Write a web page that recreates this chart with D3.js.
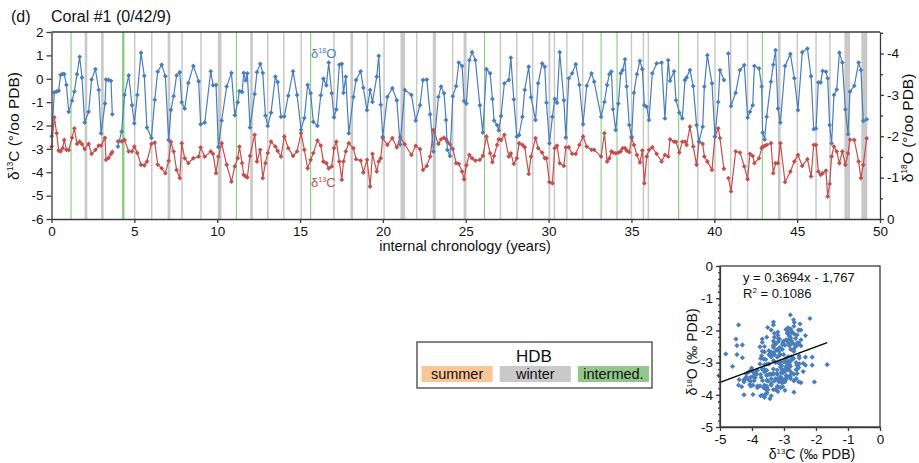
<!DOCTYPE html>
<html>
<head>
<meta charset="utf-8">
<script src="https://cdn.jsdelivr.net/npm/d3@7"></script>
<style>
  body { margin: 0; background: #fff; }
  svg text { font-family: "Liberation Sans", Arial, sans-serif; fill: #111; }
  .axis path, .axis line { stroke: #3a3a3a; stroke-width: 1.3; }
  .axis text { font-size: 13.5px; }
</style>
</head>
<body>
<div id="chart"></div>
<script>
// sample chronology (years); null marks a break in the record
const years = [
  0.01,0.17,0.31,0.43,0.55,0.67,0.77,0.90,1.04,1.24,1.38,1.54,1.70,1.84,2.00,2.24,2.42,2.65,2.85,2.99,
  3.23,3.29,3.45,3.59,3.67,3.85,
  4.01,4.23,4.41,4.66,4.86,5.00,5.18,5.40,5.60,5.76,6.03,6.23,6.41,6.65,6.87,7.07,7.21,7.37,7.55,7.74,
  7.86,8.04,8.26,8.56,8.88,9.00,9.25,9.61,9.75,9.93,10.07,10.27,10.57,10.86,11.06,11.24,11.34,11.50,11.60,11.72,
  11.82,11.98,12.26,12.40,12.60,12.75,12.91,13.05,13.25,13.51,13.65,13.85,14.05,14.29,14.58,14.82,15.06,15.26,15.46,15.64,
  15.80,16.05,16.25,16.41,16.59,16.73,16.91,17.05,17.19,17.37,17.52,17.62,17.76,17.94,18.22,18.38,18.66,18.82,19.04,19.23,
  19.37,19.63,19.75,19.87,19.99,20.27,20.57,20.84,21.04,21.32,21.72,21.98,22.24,22.42,22.65,22.85,23.05,23.35,23.51,23.69,
  23.81,23.89,24.05,24.22,24.42,24.58,24.78,24.90,25.04,25.22,25.38,25.58,25.85,26.03,26.25,26.47,26.61,26.71,26.89,26.99,
  27.13,27.33,27.60,27.72,27.90,28.08,28.22,28.42,28.56,28.80,28.94,29.21,29.37,29.61,29.77,29.87,30.05,30.23,30.37,30.51,
  30.67,30.92,31.04,31.22,31.42,31.64,31.86,32.08,32.30,32.59,32.75,33.17,33.37,33.53,33.67,33.79,33.89,34.05,34.21,34.35,
  34.47,34.61,34.71,34.87,35.01,35.15,35.33,35.51,35.66,35.78,35.92,36.06,36.26,36.52,36.82,37.02,37.22,37.33,37.57,37.69,
  37.89,38.07,38.23,38.33,38.53,38.73,38.93,39.08,39.30,39.40,39.58,39.86,40.04,40.24,40.34,40.58,40.70,
  40.85,41.01,41.29,41.55,41.81,42.01,42.15,42.32,42.42,42.70,42.86,42.92,43.04,43.16,43.42,43.56,43.70,43.84,43.99,44.27,
  44.59,44.83,45.05,45.31,45.62,45.84,46.00,46.14,46.28,46.42,46.54,46.74,46.84,46.96,47.08,47.22,47.39,47.55,47.73,47.91,
  48.07,48.19,48.45,48.71,48.85,48.99,49.20
];

// d18O (permil PDB), right axis, reversed
const d18O = [
  -2.00,-3.06,-3.08,-3.10,-3.48,-3.51,-3.50,-3.24,-2.59,-2.86,-3.08,-3.50,-3.92,-3.42,-2.33,-2.59,-3.37,-3.62,-3.12,-2.07,
  -2.79,-3.37,-3.36,-3.34,-2.53,null,
  -1.75,-2.11,-3.00,-3.47,-2.75,-2.31,-3.00,-4.02,-3.46,-2.21,-1.96,-2.88,-3.56,-3.73,-3.45,-1.91,-2.64,-2.97,-3.47,-3.55,
  -2.82,-2.67,-3.29,-3.70,-3.33,-2.29,-2.33,-3.57,-3.23,-3.24,-1.74,-2.38,-3.20,-3.53,-2.51,-2.82,-3.09,-3.07,-3.53,-3.35,
  -3.52,-2.21,-3.02,-3.55,-3.75,-3.53,-2.50,-2.25,-2.57,-3.44,-3.31,-2.47,-2.48,-2.98,-3.57,-3.00,-2.16,-2.44,-3.24,-3.04,
  -2.35,-2.25,-2.99,-3.39,-3.23,-3.78,-3.04,-2.46,-2.65,-3.73,-3.75,-3.05,-3.44,-2.07,-2.95,-3.36,-3.57,-3.17,-2.63,-3.12,
  -2.83,-3.44,-3.94,-2.76,-1.99,-2.95,-3.16,-2.87,-1.80,-3.12,-3.00,-2.38,-2.75,-3.36,-3.37,-2.53,-1.63,-2.95,-3.20,-3.04,
  -2.39,-1.67,-1.52,-2.97,-3.21,-3.78,-3.70,-2.85,-2.79,-3.84,-4.03,-3.84,-2.75,-2.09,-3.62,-3.52,-2.90,-2.38,-2.27,-2.14,
  -2.49,-3.28,-3.36,-3.90,-2.89,-1.99,-2.03,-2.47,-3.12,-3.68,-2.94,-2.39,-3.28,-3.76,-3.68,-2.81,-1.83,-2.47,-2.90,-2.81,
  -4.03,-2.87,-1.97,-3.40,-3.52,-3.74,-3.24,-2.29,-3.22,-3.52,-3.32,-2.47,-2.83,-3.24,-3.50,-3.56,-2.65,-2.15,-2.79,-3.52,
  -3.60,-3.86,-3.20,-2.27,-1.99,-3.05,-3.50,-3.82,-3.62,-2.75,-2.71,-2.39,-3.52,-3.76,-3.78,-2.43,-3.84,-3.34,-3.57,-2.87,
  -2.57,-2.43,-3.36,-3.42,-3.60,-3.21,-2.27,-1.87,-2.23,-3.20,-3.96,-3.28,-1.99,-2.83,-3.60,-3.36,null,
  -4.00,-2.73,-3.05,-3.60,-3.72,-2.45,-2.59,-2.75,-3.70,-3.64,-3.20,-2.09,-1.92,-2.47,-3.32,-3.73,-4.08,-2.67,-2.33,-3.70,
  -3.99,-3.40,-2.63,-4.03,-4.12,-3.45,-2.17,-2.19,-3.30,-3.30,-3.58,-3.56,-3.40,-2.27,-1.83,-3.00,-3.13,-4.02,-3.78,-2.65,
  -2.05,-3.08,-3.22,-3.78,-3.60,-2.37,-2.41
];

// d13C (permil PDB), left axis
const d13C = [
  -2.90,-1.65,-2.33,-3.07,-3.11,-2.97,-2.62,-3.04,-3.05,-2.52,-2.12,-2.79,-2.69,-2.80,-3.01,-2.79,-3.21,-3.04,-2.86,-2.86,
  -2.53,-3.47,-3.38,-3.22,-3.13,null,
  -2.68,-2.68,-2.62,-3.11,-3.11,-2.90,-3.18,-3.68,-3.71,-3.54,-2.79,-2.73,-3.67,-3.83,-4.04,-3.51,-2.70,-3.11,-3.90,-4.25,
  -2.76,-3.40,-3.61,-3.40,-3.33,-2.94,-3.33,-3.11,-3.21,-4.04,-3.33,-2.76,-3.68,-4.40,-3.75,-3.40,-2.90,-3.61,-4.11,-4.18,
  -4.22,-3.30,-2.40,-3.54,-3.04,-4.25,-3.61,-3.18,-2.69,-2.90,-3.09,-3.33,-2.47,-2.97,-3.30,-3.11,-2.33,-3.04,-3.83,-3.47,
  -3.18,-2.64,-2.86,-3.54,-3.61,-3.83,-3.75,-2.97,-2.69,-3.54,-4.32,-3.54,-3.11,-2.76,-2.97,-3.44,-3.50,-4.01,-3.47,-4.61,
  -3.21,-3.97,-3.54,-3.40,-2.54,-2.83,-2.54,-2.93,-2.50,-2.80,-3.26,-2.87,-3.01,-3.90,-3.73,-3.33,-2.19,-2.79,-2.59,-2.52,
  -2.59,-2.70,-2.80,-3.00,-3.61,-3.64,-3.97,-4.30,-3.70,-3.26,-3.40,-3.50,-3.47,-3.30,-2.47,-3.19,-3.57,-3.30,-2.83,-2.59,
  -2.62,-2.40,-3.33,-3.19,-3.64,-3.40,-2.76,-2.83,-2.93,-4.07,-3.33,-2.54,-2.97,-3.16,-3.40,-3.40,-4.42,-4.47,-2.97,-2.86,
  -3.61,-3.73,-2.94,-2.93,-3.21,-3.21,-2.83,-2.47,-2.90,-3.04,-3.04,-3.33,-2.33,-3.54,-3.40,-3.11,-3.16,-3.19,-3.16,-3.11,
  -2.97,-2.97,-3.07,-3.14,-2.54,-2.83,-3.26,-3.58,-3.07,-4.47,-3.33,-3.04,-2.93,-3.21,-3.54,-3.26,-3.33,-2.59,-2.69,-2.70,
  -3.16,-2.69,-2.69,-2.83,-2.05,-2.90,-3.68,-2.69,-2.79,-3.33,-3.54,-3.90,-2.47,-2.12,-2.54,-3.85,null,
  -4.25,-4.82,-3.11,-3.16,-3.75,-4.30,-3.21,-3.30,-3.61,-3.40,-2.97,-2.90,-2.87,-2.83,-2.76,-4.04,-3.61,-3.61,-2.76,-4.42,
  -3.97,-3.54,-3.26,-3.73,-3.44,-4.18,-2.83,-2.83,-3.97,-4.11,-4.04,-3.93,-5.04,-4.50,-3.33,-2.90,-3.11,-3.61,-3.11,-3.68,
  -3.19,-2.60,-2.62,-3.54,-4.25,-3.68,-2.55
];

// HDB bands: [centre year, width in years]
const winterBands = [
  [2.08,0.16],[3.07,0.16],[5.02,0.09],[6.05,0.09],[7.09,0.16],[7.88,0.09],[9.02,0.09],[10.15,0.22],
  [12.07,0.16],[13.05,0.09],[14.02,0.09],[15.07,0.09],[17.05,0.09],[18.12,0.16],[19.06,0.09],[20.07,0.09],
  [21.20,0.28],[22.04,0.09],[23.11,0.20],[24.21,0.09],[24.96,0.18],[27.09,0.09],[28.08,0.09],[29.04,0.09],
  [30.05,0.12],[30.35,0.09],[31.10,0.09],[32.06,0.09],[35.00,0.09],[35.72,0.09],[36.02,0.09],[39.00,0.09],
  [40.04,0.09],[40.99,0.09],[42.01,0.09],[43.92,0.16],[45.01,0.09],[46.14,0.09],[46.98,0.09],[48.02,0.34],
  [49.05,0.36]
];
const intermedBands = [
  [1.18,0.07],[4.33,0.15],[11.16,0.07],[15.64,0.07],[26.13,0.07],[33.17,0.07],[34.13,0.07],[37.85,0.07],[42.90,0.07]
];
const summerBands = [];

const legendLabels = ["summer", "winter", "intermed."];
const legendColors = ["#f9c697", "#c9c9c9", "#92c78b"];

const regSlope = 0.3694;
const regIntercept = -1.767;
const regText = ["y = 0.3694x - 1,767", "R² = 0.1086"];

const xTicks = d3.range(0, 51, 5);
const cTicks = d3.range(-6, 3, 1);
const oTicks = [0, -1, -2, -3, -4];

const blue = "#4a7ebb";
const red = "#c0504d";

const W = 919, H = 463;
const svg = d3.select("#chart").append("svg")
  .attr("width", W).attr("height", H);

const rows = years.map((t, i) => ({ t: t, o: d18O[i], c: d13C[i] }));

// ---------- main time series ----------
const x = d3.scaleLinear().domain([0, 50]).range([51.5, 880]);
const yC = d3.scaleLinear().domain([-6, 2]).range([219, 32]);
const yO = d3.scaleLinear().domain([0, -4.52]).range([219, 32]);

const bands = svg.append("g");
function drawBands(list, color) {
  bands.selectAll(null).data(list).enter().append("rect")
    .attr("x", d => x(d[0] - d[1] / 2))
    .attr("y", 32)
    .attr("width", d => x(d[1]) - x(0))
    .attr("height", 187)
    .attr("fill", color);
}
drawBands(summerBands, legendColors[0]);
drawBands(winterBands, legendColors[1]);
drawBands(intermedBands, "#8ccf86");

const diamond = r => `M0,${-r}L${r},0L0,${r}L${-r},0Z`;

function drawSeries(key, yScale, color) {
  const line = d3.line()
    .defined(d => d[key] != null)
    .x(d => x(d.t))
    .y(d => yScale(d[key]));
  svg.append("path").datum(rows)
    .attr("d", line)
    .attr("fill", "none")
    .attr("stroke", color)
    .attr("stroke-width", 1.2);
  svg.append("g").selectAll("path")
    .data(rows.filter(d => d[key] != null))
    .enter().append("path")
    .attr("d", diamond(2.4))
    .attr("transform", d => `translate(${x(d.t)},${yScale(d[key])})`)
    .attr("fill", color);
}
drawSeries("c", yC, red);
drawSeries("o", yO, blue);

const fmt = d => String(d);

svg.append("g").attr("class", "axis")
  .attr("transform", "translate(51.5,0)")
  .call(d3.axisLeft(yC).tickValues(cTicks).tickFormat(fmt).tickSize(5).tickSizeOuter(0).tickPadding(3));

svg.append("g").attr("class", "axis")
  .attr("transform", "translate(880,0)")
  .call(d3.axisRight(yO).tickValues(oTicks).tickFormat(fmt).tickSize(4).tickSizeOuter(0).tickPadding(3));
svg.append("g").attr("class", "axis")
  .attr("transform", "translate(880,0)")
  .call(d3.axisRight(yO).tickValues([-0.5, -1.5, -2.5, -3.5, -4.5]).tickFormat("").tickSize(3).tickSizeOuter(0))
  .select(".domain").remove();

svg.append("g").attr("class", "axis")
  .attr("transform", "translate(0,219)")
  .call(d3.axisBottom(x).tickValues(xTicks).tickFormat(fmt).tickSize(4).tickSizeOuter(0).tickPadding(3));

svg.append("line")
  .attr("x1", 51.5).attr("x2", 880).attr("y1", 32).attr("y2", 32)
  .attr("stroke", "#3a3a3a").attr("stroke-width", 1.3);

// titles
svg.append("text").attr("x", 11).attr("y", 22).style("font-size", "16px").text("(d)");
svg.append("text").attr("x", 51).attr("y", 22).style("font-size", "16px").text("Coral #1 (0/42/9)");

function isoLabel(g, mass, elem, rest, size) {
  const t = g.append("text").style("font-size", size + "px");
  t.append("tspan").text("δ");
  t.append("tspan").attr("dy", -size * 0.38).style("font-size", (size * 0.55) + "px").text(mass);
  t.append("tspan").attr("dy", size * 0.38).text(elem + rest);
  return t;
}

isoLabel(svg, "13", "C", " (°/oo PDB)", 15.5)
  .attr("text-anchor", "middle")
  .attr("transform", "translate(19,126) rotate(-90)");
isoLabel(svg, "18", "O", " (°/oo PDB)", 15.5)
  .attr("text-anchor", "middle")
  .attr("transform", "translate(913,128) rotate(-90)");

svg.append("text").attr("x", 465).attr("y", 251)
  .attr("text-anchor", "middle").style("font-size", "14.5px")
  .text("internal chronology (years)");

isoLabel(svg, "18", "O", "", 13).attr("x", 311).attr("y", 58).style("fill", blue)
  .selectAll("tspan").style("fill", blue);
isoLabel(svg, "13", "C", "", 13).attr("x", 311).attr("y", 187).style("fill", red)
  .selectAll("tspan").style("fill", red);

// ---------- legend ----------
const lg = svg.append("g");
lg.append("rect").attr("x", 417).attr("y", 342).attr("width", 235).attr("height", 46)
  .attr("fill", "#fff").attr("stroke", "#333").attr("stroke-width", 1.2);
lg.append("text").attr("x", 534).attr("y", 362).attr("text-anchor", "middle")
  .style("font-size", "17px").text("HDB");
const lx = d3.scaleBand().domain(legendLabels).range([421.5, 649]).paddingInner(0.09);
lg.selectAll(".sw").data(legendLabels).enter().append("rect")
  .attr("x", d => lx(d)).attr("y", 366).attr("width", lx.bandwidth()).attr("height", 16)
  .attr("fill", (d, i) => legendColors[i]);
lg.selectAll(".lt").data(legendLabels).enter().append("text")
  .attr("x", d => lx(d) + lx.bandwidth() / 2).attr("y", 379)
  .attr("text-anchor", "middle").style("font-size", "14.5px").text(d => d);

// ---------- scatter ----------
const sx = d3.scaleLinear().domain([-5, 0]).range([720, 880]);
const sy = d3.scaleLinear().domain([0, -5]).range([266, 427]);
const pts = rows.filter(d => d.o != null && d.c != null);

svg.append("rect").attr("x", 720).attr("y", 266).attr("width", 160).attr("height", 161)
  .attr("fill", "none").attr("stroke", "#3a3a3a").attr("stroke-width", 1.3);

svg.append("g").selectAll("path").data(pts).enter().append("path")
  .attr("d", diamond(2.6))
  .attr("transform", d => `translate(${sx(d.c)},${sy(d.o)})`)
  .attr("fill", blue);

const xEnd = d3.max(pts, d => d.c);
svg.append("line")
  .attr("x1", sx(-5)).attr("y1", sy(regSlope * -5 + regIntercept))
  .attr("x2", sx(xEnd)).attr("y2", sy(regSlope * xEnd + regIntercept))
  .attr("stroke", "#000").attr("stroke-width", 1.3);

svg.append("g").attr("class", "axis")
  .attr("transform", "translate(720,0)")
  .call(d3.axisLeft(sy).tickValues(d3.range(0, -6, -1)).tickFormat(fmt).tickSize(4).tickSizeOuter(0).tickPadding(3));
svg.append("g").attr("class", "axis")
  .attr("transform", "translate(720,0)")
  .call(d3.axisLeft(sy).tickValues(d3.range(-0.2, -5, -0.2)).tickFormat("").tickSize(2).tickSizeOuter(0))
  .select(".domain").remove();
svg.append("g").attr("class", "axis")
  .attr("transform", "translate(0,427)")
  .call(d3.axisBottom(sx).tickValues(d3.range(-5, 1, 1)).tickFormat(fmt).tickSize(4).tickSizeOuter(0).tickPadding(3));

svg.append("text").attr("x", 743).attr("y", 282).style("font-size", "13px").text(regText[0]);
const r2 = svg.append("text").attr("x", 743).attr("y", 298).style("font-size", "13px");
r2.append("tspan").text("R");
r2.append("tspan").attr("dy", -5).style("font-size", "8px").text("2");
r2.append("tspan").attr("dy", 5).text(" = 0.1086");

isoLabel(svg, "13", "C", " (‰ PDB)", 14)
  .attr("x", 812).attr("y", 459).attr("text-anchor", "middle");
isoLabel(svg, "18", "O", " (‰ PDB)", 14)
  .attr("text-anchor", "middle")
  .attr("transform", "translate(697,352) rotate(-90)");
</script>
</body>
</html>
